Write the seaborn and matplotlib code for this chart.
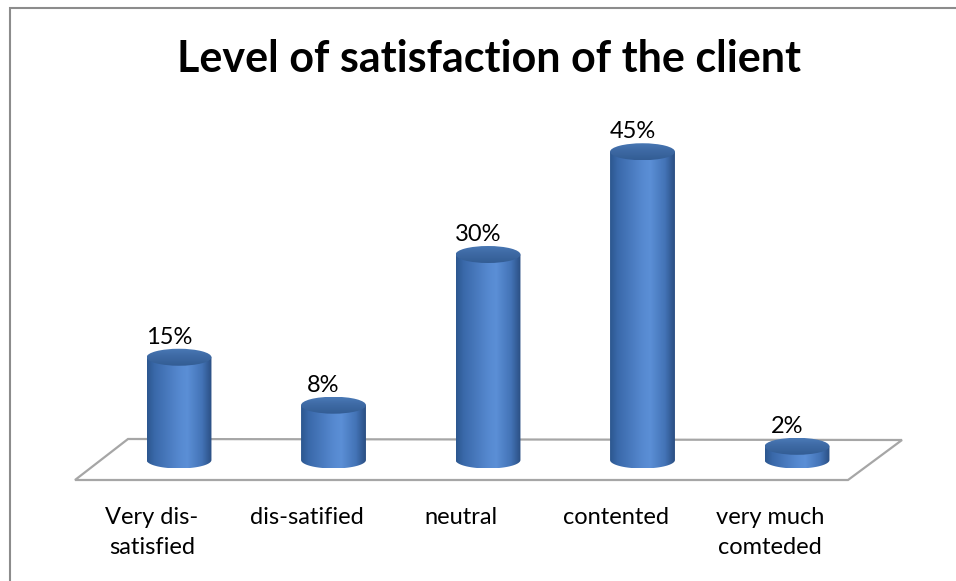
import numpy as np
import pandas as pd
import matplotlib
matplotlib.use("Agg")
import matplotlib.pyplot as plt
from matplotlib.colors import LinearSegmentedColormap
from matplotlib.patches import Ellipse, Polygon, PathPatch, Rectangle
from matplotlib.path import Path
import seaborn as sns

# Survey results
categories = ["Very dis-\nsatisfied", "dis-satified", "neutral", "contented", "very much\ncomteded"]
values = [15, 8, 30, 45, 2]
value_labels = ["15%", "8%", "30%", "45%", "2%"]
title = "Level of satisfaction of the client"

sns.set_theme(style="white")
plt.rcParams["font.family"] = ["Lato", "DejaVu Sans"]

W, H = 956, 581
fig = plt.figure(figsize=(W / 100, H / 100), dpi=100)
fig.patch.set_facecolor("white")
ax = fig.add_axes([0, 0, 1, 1])

df = pd.DataFrame({"category": categories, "value": values})
sns.barplot(data=df, x="category", y="value", width=0.42, color="#4f81bd", ax=ax)

# pixel-based scale: bar pitch 154.5 px, 6.85 px per percent, floor line at y=460 px
px_x0, pitch = 179.0, 154.5
px_y0, ppu = 460.0, 6.85
ax.set_xlim(-px_x0 / pitch, (W - px_x0) / pitch)
ax.set_ylim(-(H - px_y0) / ppu, px_y0 / ppu)
ax.axis("off")

# outer chart frame
fig.patches.append(Rectangle((10 / W, -0.1), 1.1, 1 - 8 / H + 0.1, transform=fig.transFigure,
                             fill=False, edgecolor="#8c8c8c", linewidth=1.5, zorder=0))

# floor parallelogram
floor_px = [(128, 439), (902, 440), (848, 480), (75, 480)]
floor = Polygon([(x / W, 1 - y / H) for x, y in floor_px], closed=True,
                transform=fig.transFigure, facecolor="white", edgecolor="#a6a6a6",
                linewidth=1.6, zorder=1)
ax.add_patch(floor)

body_cmap = LinearSegmentedColormap.from_list(
    "cyl", [(0.0, "#2c578f"), (0.12, "#3a69aa"), (0.5, "#5689d0"),
            (0.62, "#5b8fd6"), (0.85, "#4373b6"), (1.0, "#2a4e82")])
top_cmap = LinearSegmentedColormap.from_list(
    "cyltop", [(0.0, "#335d94"), (0.6, "#3f6ba6"), (1.0, "#4a79b6")])

ry = 8.5 / ppu  # half height of the ellipses in data units
grad = np.linspace(0, 1, 256).reshape(1, -1)
label_shift = -10 / pitch   # perspective offset of the value labels
front_shift = -27 / pitch   # category positions along the front edge of the floor

for patch, lab in zip(list(ax.patches), value_labels):
    x0 = patch.get_x()
    w = patch.get_width()
    h = patch.get_height()
    patch.set_visible(False)
    xc = x0 + w / 2
    x1 = x0 + w

    # body outline: straight sides with a rounded bottom
    t = np.linspace(np.pi, 2 * np.pi, 60)
    bottom = np.column_stack([xc + (w / 2) * np.cos(t), ry * np.sin(t)])
    verts = np.vstack([[x0, h], [x0, 0], bottom, [x1, 0], [x1, h], [x0, h]])
    clip = PathPatch(Path(verts, closed=True), transform=ax.transData,
                     facecolor="none", edgecolor="none")
    ax.add_patch(clip)
    im = ax.imshow(grad, cmap=body_cmap, aspect="auto",
                   extent=[x0, x1, -ry, h], zorder=3, interpolation="bilinear")
    im.set_clip_path(clip)

    # top cap
    cap = Ellipse((xc, h), w, 2 * ry, transform=ax.transData,
                  facecolor="none", edgecolor="none")
    ax.add_patch(cap)
    im2 = ax.imshow(np.linspace(0, 1, 64).reshape(-1, 1)[::-1], cmap=top_cmap,
                    aspect="auto", extent=[x0, x1, h - ry, h + ry], zorder=4,
                    interpolation="bilinear")
    im2.set_clip_path(cap)

    ax.annotate(lab, (xc + label_shift, h + ry), xytext=(0, 3.6), textcoords="offset points",
                ha="center", va="baseline", fontsize=17, color="black", zorder=5)

ax.set_aspect("auto")
ax.set_xlim(-px_x0 / pitch, (W - px_x0) / pitch)
ax.set_ylim(-(H - px_y0) / ppu, px_y0 / ppu)

# category labels under the floor
for i, cat in enumerate(categories):
    ax.text(i + front_shift, -(507 - px_y0) / ppu, cat, ha="center", va="top",
            fontsize=17, linespacing=1.5, color="black")

fig.text(489 / W, 1 - 58.5 / H, title, ha="center", va="center", fontsize=31,
         fontweight="bold", color="black")

fig.savefig("out.png", dpi=100, facecolor="white")
